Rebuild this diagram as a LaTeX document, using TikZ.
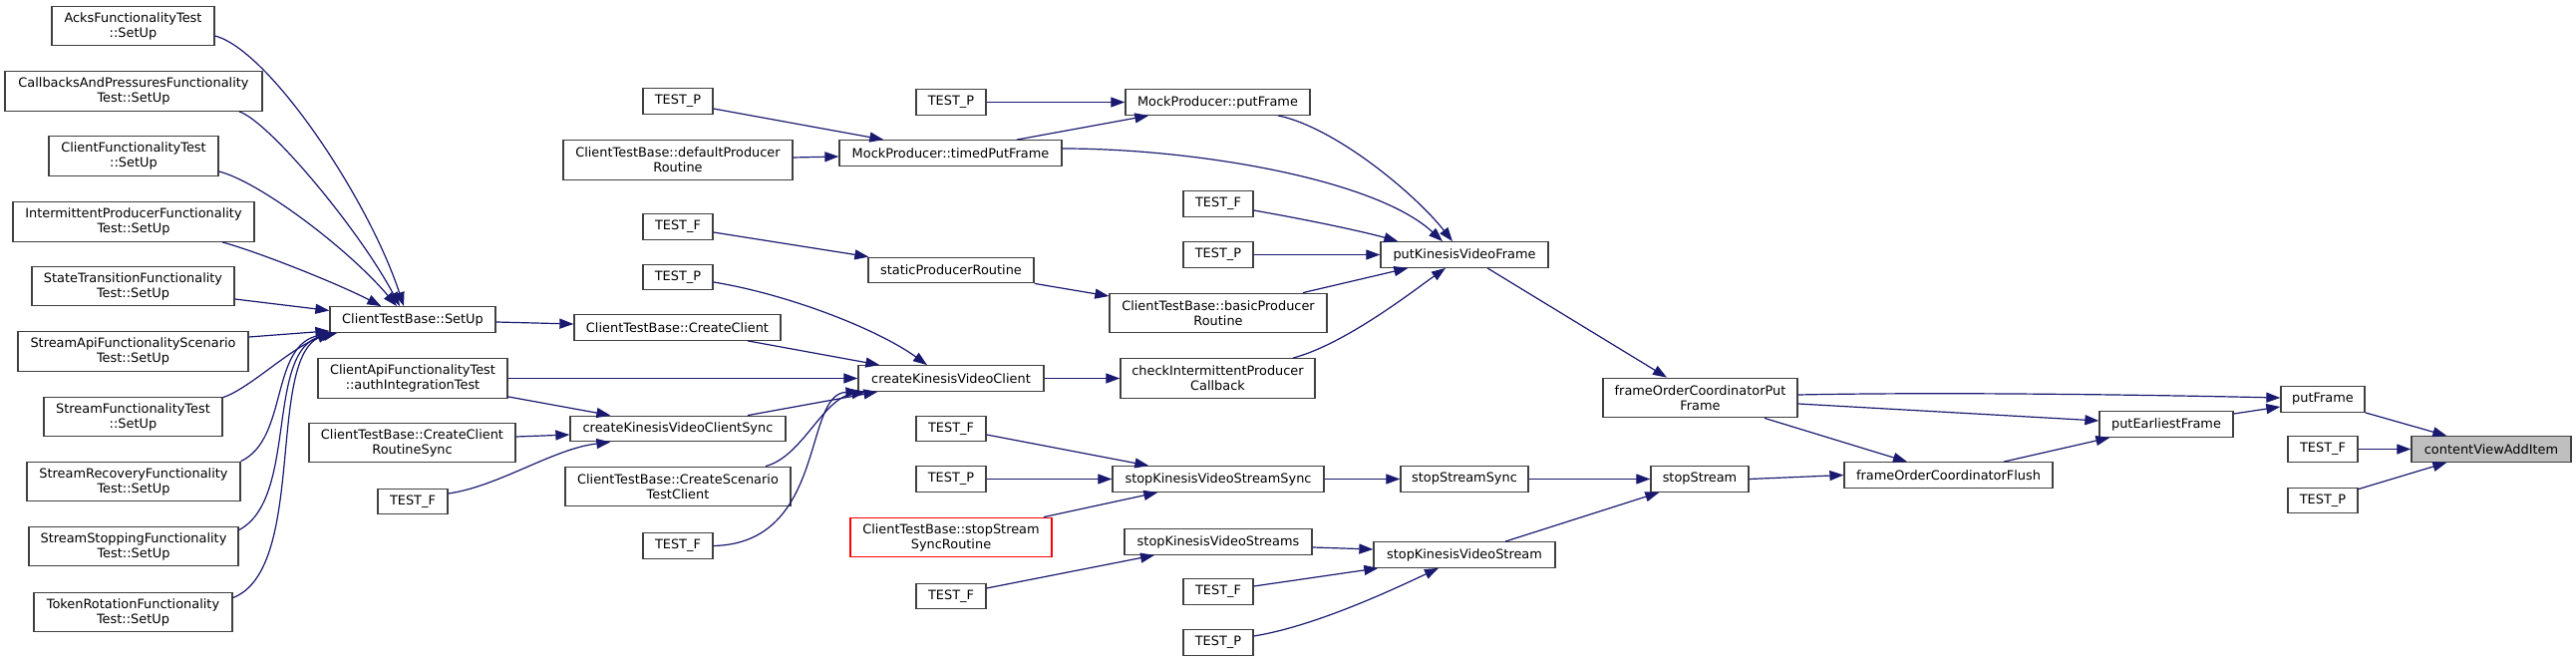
\documentclass[tikz,border=0pt]{standalone}
\usepackage{fontspec}
\newfontfamily\dvsans{DejaVu Sans}
\usetikzlibrary{calc,arrows.meta}
\definecolor{edgeblue}{HTML}{191970}
\definecolor{boxgray}{HTML}{404040}
\definecolor{rootfill}{HTML}{BFBFBF}
\tikzset{
 fn/.style={draw=boxgray, line width=1.3pt, fill=white, inner sep=0pt, minimum height=25.5pt, align=center, font=\dvsans\fontsize{12.9}{15}\selectfont},
 fn2/.style={fn, minimum height=39.5pt},
 tst/.style={fn, minimum width=70pt},
 ed/.style={draw=edgeblue, line width=1.2pt, -{Triangle[length=14pt,width=10pt]}},
}
\begin{document}
\begin{tikzpicture}[x=1pt,y=-1pt]
\useasboundingbox (0,0) rectangle (2584,663);
% column 0
\node[fn2, minimum width=163pt] (n1) at (133.5,26) {AcksFunctionalityTest\\::SetUp};
\node[fn2, minimum width=258pt] (n2) at (134,91.5) {CallbacksAndPressuresFunctionality\\Test::SetUp};
\node[fn2, minimum width=170pt] (n3) at (134,156.5) {ClientFunctionalityTest\\::SetUp};
\node[fn2, minimum width=242pt] (n4) at (134,222.5) {IntermittentProducerFunctionality\\Test::SetUp};
\node[fn2, minimum width=203pt] (n5) at (133.5,287) {StateTransitionFunctionality\\Test::SetUp};
\node[fn2, minimum width=231pt] (n6) at (133.5,352.5) {StreamApiFunctionalityScenario\\Test::SetUp};
\node[fn2, minimum width=179pt] (n7) at (133.5,418) {StreamFunctionalityTest\\::SetUp};
\node[fn2, minimum width=214pt] (n8) at (134,483) {StreamRecoveryFunctionality\\Test::SetUp};
\node[fn2, minimum width=210pt] (n9) at (134,548) {StreamStoppingFunctionality\\Test::SetUp};
\node[fn2, minimum width=199pt] (n10) at (133.5,614) {TokenRotationFunctionality\\Test::SetUp};
% column 1
\node[fn, minimum width=166pt] (setup) at (414,320.5) {ClientTestBase::SetUp};
\node[fn2, minimum width=190pt] (auth) at (414,379.5) {ClientApiFunctionalityTest\\::authIntegrationTest};
\node[fn2, minimum width=207pt] (rsync) at (413.5,444) {ClientTestBase::CreateClient\\RoutineSync};
\node[tst] (tfa) at (414,503) {TEST\_F};
% column 2
\node[tst] (tpa) at (680,101.5) {TEST\_P};
\node[fn2, minimum width=230pt] (defp) at (680,160.5) {ClientTestBase::defaultProducer\\Routine};
\node[tst] (tfb) at (680,227.5) {TEST\_F};
\node[tst] (tpc) at (680,278) {TEST\_P};
\node[fn, minimum width=207pt] (cclient) at (679.5,328.5) {ClientTestBase::CreateClient};
\node[fn, minimum width=216pt] (ckvcs) at (680,430) {createKinesisVideoClientSync};
\node[fn2, minimum width=226pt] (scen) at (680,488) {ClientTestBase::CreateScenario\\TestClient};
\node[tst] (tfd) at (680,547.5) {TEST\_F};
% column 3
\node[tst] (tpe) at (954,102.5) {TEST\_P};
\node[fn, minimum width=223pt] (timed) at (953.5,153.5) {MockProducer::timedPutFrame};
\node[fn, minimum width=166pt] (stat) at (954,271) {staticProducerRoutine};
\node[fn, minimum width=186pt] (ckvc) at (954,379.5) {createKinesisVideoClient};
\node[tst] (tff) at (954,430) {TEST\_F};
\node[tst] (tpg) at (954,480.5) {TEST\_P};
\node[fn2, minimum width=202pt, draw=red] (ssr) at (954,539) {ClientTestBase::stopStream\\SyncRoutine};
\node[tst] (tfh) at (954,598) {TEST\_F};
% column 4
\node[fn, minimum width=185pt] (mpf) at (1221.5,102.5) {MockProducer::putFrame};
\node[tst] (tfi) at (1222,204.5) {TEST\_F};
\node[tst] (tpj) at (1222,255.5) {TEST\_P};
\node[fn2, minimum width=218pt] (bpr) at (1222,314) {ClientTestBase::basicProducer\\Routine};
\node[fn2, minimum width=195pt] (cipc) at (1221.5,379.5) {checkIntermittentProducer\\Callback};
\node[fn, minimum width=212pt] (skvss) at (1222,480.5) {stopKinesisVideoStreamSync};
\node[fn, minimum width=188pt] (skvsts) at (1222,543.5) {stopKinesisVideoStreams};
\node[tst] (tfk) at (1222,593.5) {TEST\_F};
\node[tst] (tpl) at (1222,644.5) {TEST\_P};
% column 5
\node[fn, minimum width=168pt] (pkvf) at (1469,255.5) {putKinesisVideoFrame};
\node[fn, minimum width=128pt] (sss) at (1469,480.5) {stopStreamSync};
\node[fn, minimum width=182pt] (skvst) at (1469,556.5) {stopKinesisVideoStream};
% column 6
\node[fn2, minimum width=195pt] (focp) at (1705.5,399) {frameOrderCoordinatorPut\\Frame};
\node[fn, minimum width=98pt] (sst) at (1705,480.5) {stopStream};
% column 7
\node[fn, minimum width=209pt] (flush) at (1954.5,476.5) {frameOrderCoordinatorFlush};
% column 8
\node[fn, minimum width=134pt] (pef) at (2173,425.5) {putEarliestFrame};
% column 9
\node[fn, minimum width=84pt] (pfr) at (2330,400.5) {putFrame};
\node[tst] (tfm) at (2330,450.5) {TEST\_F};
\node[tst] (tpn) at (2330,502) {TEST\_P};
% column 10
\node[fn, minimum width=160pt, fill=rootfill] (cvai) at (2499,450.5) {contentViewAddItem};

% edges into contentViewAddItem
\draw[ed] (pfr.south east) -- ($(cvai.north west)+(36,0)$);
\draw[ed] (tfm.east) -- (cvai.west);
\draw[ed] ($(tpn.north east)+(0,2)$) -- ($(cvai.south west)+(36,0)$);
% into putFrame
\draw[ed] ($(focp.east)+(0,-3)$) .. controls (1950,393) and (2150,396) .. ($(pfr.west)+(0,-1.5)$);
\draw[ed] ($(pef.east)+(0,-10.5)$) -- ($(pfr.west)+(0,7.5)$);
% into putEarliestFrame
\draw[ed] ($(focp.east)+(0,6)$) -- ($(pef.west)+(0,-3.5)$);
\draw[ed] ($(flush.north)+(55.5,0)$) -- ($(pef.south west)+(11,0)$);
% into flush
\draw[ed] ($(focp.south)+(64.5,0)$) -- ($(flush.north)+(-41.5,0)$);
\draw[ed] (sst.east) -- (flush.west);
% into frameOrderCoordinatorPutFrame
\draw[ed] ($(pkvf.south)+(23,0)$) -- ($(focp.north)+(-33.5,0)$);
% into stopStream
\draw[ed] (sss.east) -- (sst.west);
\draw[ed] ($(skvst.north)+(41,0)$) -- ($(sst.south west)+(9,0)$);
% into stopStreamSync
\draw[ed] (skvss.east) -- (sss.west);
% into stopKinesisVideoStream
\draw[ed] ($(skvsts.east)+(0,5.5)$) -- ($(skvst.west)+(0,-5.5)$);
\draw[ed] ($(tfk.east)+(0,-5.5)$) -- ($(skvst.south west)+(5,0)$);
\draw[ed] ($(tpl.east)+(0,-6.5)$) .. controls (1320,628) and (1400,590) .. ($(skvst.south)+(-26,0)$);
% into stopKinesisVideoStreams
\draw[ed] ($(tfh.east)+(0,-8)$) -- ($(skvsts.south)+(-64,0)$);
% into stopKinesisVideoStreamSync
\draw[ed] ($(tff.east)+(0,6)$) -- ($(skvss.north west)+(37,0)$);
\draw[ed] (tpg.east) -- (skvss.west);
\draw[ed] ($(ssr.north)+(93,0)$) -- ($(skvss.south west)+(46,0)$);
% into putKinesisVideoFrame
\draw[ed] ($(mpf.south)+(60.5,0)$) .. controls (1340,128) and (1420,195) .. ($(pkvf.north)+(-12,0)$);
\draw[ed] ($(timed.east)+(0,-4.5)$) .. controls (1200,149) and (1380,180) .. ($(pkvf.north)+(-22,0)$);
\draw[ed] ($(tfi.east)+(0,6.5)$) .. controls (1320,222) and (1370,233) .. ($(pkvf.north west)+(18,0)$);
\draw[ed] (tpj.east) -- (pkvf.west);
\draw[ed] ($(bpr.north)+(85,0)$) -- ($(pkvf.south west)+(28,0)$);
\draw[ed] ($(cipc.north)+(75.5,0)$) .. controls (1350,345) and (1420,290) .. ($(pkvf.south)+(-19,0)$);
% into MockProducer::putFrame
\draw[ed] (tpe.east) -- (mpf.west);
\draw[ed] ($(timed.north)+(66.5,0)$) -- ($(mpf.south west)+(24,0)$);
% into timedPutFrame
\draw[ed] ($(tpa.east)+(0,7.5)$) -- ($(timed.north west)+(45,0)$);
\draw[ed] ($(defp.east)+(0,-2.5)$) -- ($(timed.west)+(0,3.5)$);
% into staticProducerRoutine
\draw[ed] ($(tfb.east)+(0,5.5)$) -- ($(stat.north west)+(1,0)$);
% into basicProducerRoutine
\draw[ed] (stat.south east) -- ($(bpr.west)+(0,-17)$);
% into checkIntermittentProducerCallback
\draw[ed] (ckvc.east) -- (cipc.west);
% into createKinesisVideoClient
\draw[ed] ($(tpc.east)+(0,5)$) .. controls (790,295) and (880,330) .. ($(ckvc.north)+(-24,0)$);
\draw[ed] ($(cclient.south)+(70.5,0)$) -- ($(ckvc.north west)+(22,0)$);
\draw[ed] (auth.east) -- (ckvc.west);
\draw[ed] ($(ckvcs.north)+(70,0)$) -- ($(ckvc.south west)+(20,0)$);
\draw[ed] ($(scen.north)+(88,0)$) .. controls (805,458) and (825,400) .. ($(ckvc.south west)+(8,0)$);
\draw[ed] (tfd.east) .. controls (830,545) and (805,395) .. ($(ckvc.south west)+(2,0)$);
% into CreateClient
\draw[ed] ($(setup.east)+(0,2.5)$) -- ($(cclient.west)+(0,-3.5)$);
% into createKinesisVideoClientSync
\draw[ed] ($(auth.south east)+(0,-2)$) -- ($(ckvcs.north west)+(41,0)$);
\draw[ed] ($(rsync.east)+(0,-6)$) -- ($(ckvcs.west)+(0,6)$);
\draw[ed] ($(tfa.east)+(0,-8)$) .. controls (500,488) and (555,450) .. ($(ckvcs.south west)+(41,0)$);
% into ClientTestBase::SetUp
\draw[ed] ($(n1.east)+(0,10)$) .. controls (270,50) and (370,200) .. ($(setup.north)+(-9,0)$);
\draw[ed] ($(n2.south)+(106,0)$) .. controls (270,122) and (360,230) .. ($(setup.north)+(-13,0)$);
\draw[ed] ($(n3.east)+(0,15.5)$) .. controls (260,182) and (350,250) .. ($(setup.north)+(-16,0)$);
\draw[ed] ($(n4.south)+(89,0)$) .. controls (260,253) and (340,285) .. ($(setup.north west)+(52,0)$);
\draw[ed] ($(n5.east)+(0,13)$) -- ($(setup.west)+(0,-9)$);
\draw[ed] ($(n6.east)+(0,-14.5)$) -- ($(setup.south west)+(0,-2)$);
\draw[ed] ($(n7.north east)+(0,1)$) .. controls (250,390) and (290,350) .. ($(setup.south west)+(2,0)$);
\draw[ed] (n8.north east) .. controls (290,440) and (270,345) .. ($(setup.south west)+(4,0)$);
\draw[ed] ($(n9.north east)+(0,4)$) .. controls (300,500) and (265,350) .. ($(setup.south west)+(6,0)$);
\draw[ed] ($(n10.north east)+(0,6)$) .. controls (310,570) and (265,350) .. ($(setup.south west)+(8,0)$);
\end{tikzpicture}
\end{document}
